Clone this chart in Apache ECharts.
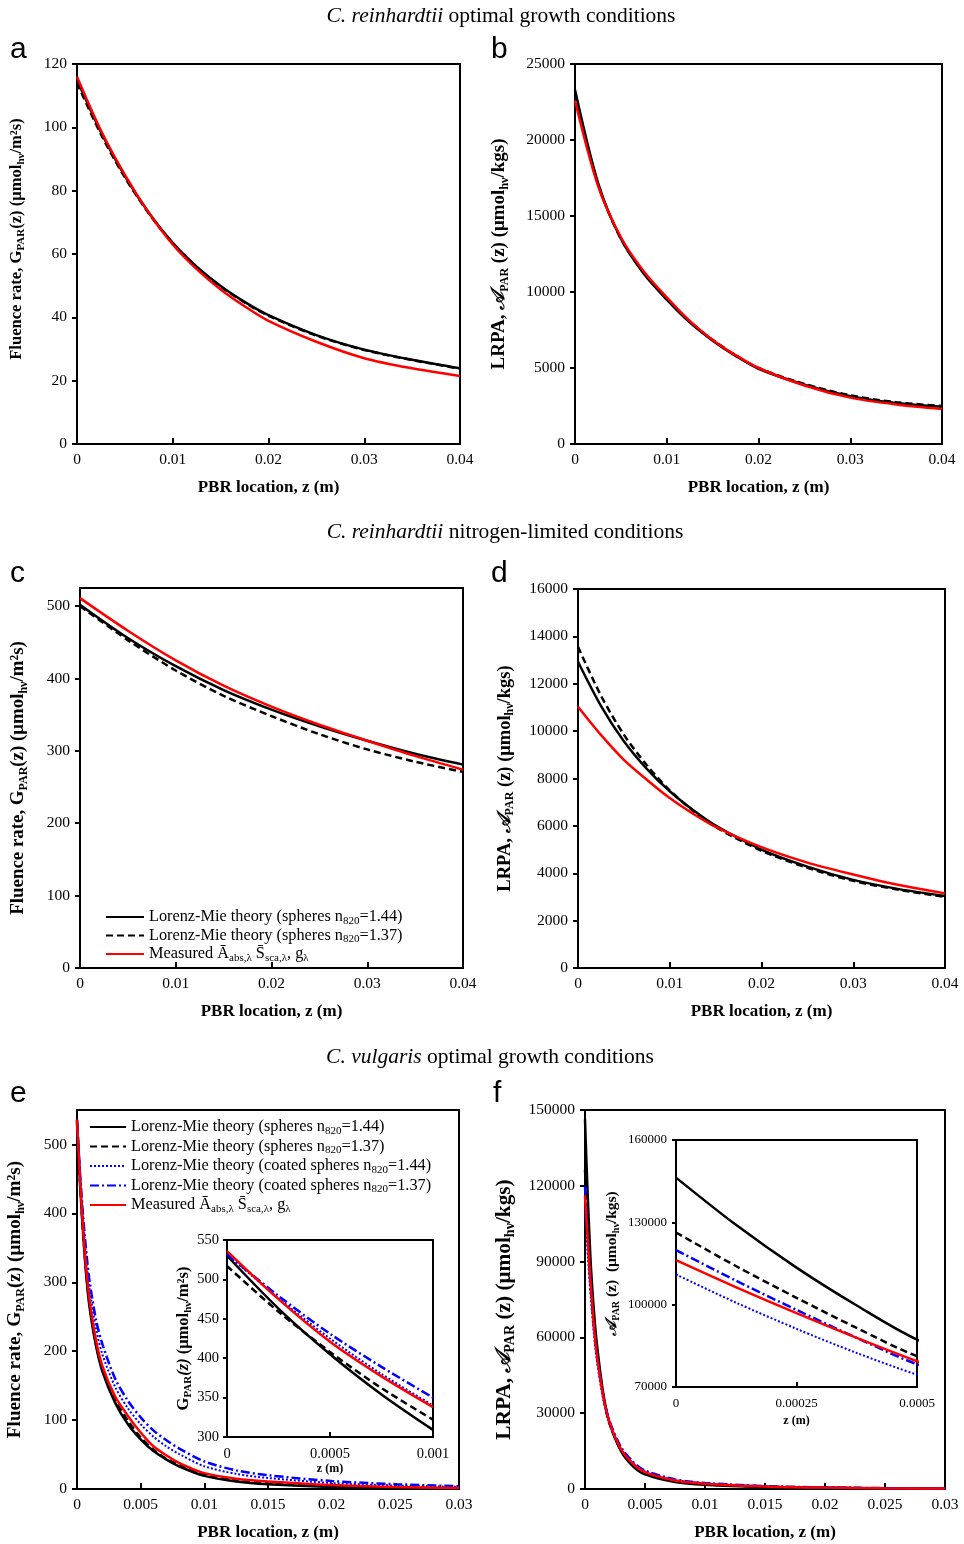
<!DOCTYPE html>
<html><head><meta charset="utf-8">
<script src="https://cdn.jsdelivr.net/npm/echarts@6/dist/echarts.min.js"></script>
<style>html,body{margin:0;padding:0;background:#fff}#c{width:964px;height:1544px}</style>
</head><body><div id="c"></div>
<script>
// ---------- DATA ----------
// Panel a / b : C. reinhardtii optimal growth
const zAB = [0,0.0025,0.005,0.0075,0.01,0.0125,0.015,0.0175,0.02,0.025,0.03,0.035,0.04];
const aSph144 = [115,98.5,84.6,73,63.5,56,49.9,44.9,40.7,34.4,29.8,26.6,23.9];
const aSph137 = [114,97.8,84.2,72.8,63.3,55.8,49.7,44.7,40.5,34.2,29.7,26.5,23.8];
const aMeas   = [116,99,85,73,63,55.2,48.8,43.5,38.9,32.3,27.1,23.9,21.5];
const bSph144 = [23300,17200,13500,11200,9500,8000,6800,5800,4950,3900,3150,2700,2450];
const bSph137 = [23000,17100,13500,11250,9550,8050,6850,5850,5000,3950,3200,2750,2500];
const bMeas   = [22600,17000,13600,11350,9650,8100,6850,5850,5000,3850,3050,2600,2300];
// Panel c / d : C. reinhardtii nitrogen-limited
const zC = [0,0.005,0.01,0.015,0.02,0.025,0.03,0.035,0.04];
const cSph144 = [502,456,417,384,357,334,314,296,281];
const cSph137 = [500,453,411,376,348,323,302,285,271];
const cMeas   = [511,466,425,390,361,336,314,293,274];
const zD = [0,0.0025,0.005,0.0075,0.01,0.0125,0.015,0.02,0.025,0.03,0.035,0.04];
const dSph144 = [12930,11070,9575,8410,7460,6680,6015,5000,4280,3720,3330,3040];
const dSph137 = [13560,11500,9850,8560,7500,6650,5950,4950,4230,3680,3300,3000];
const dMeas   = [11030,9840,8790,7950,7175,6525,5960,5100,4450,3950,3500,3150];
// Panel e : C. vulgaris fluence rate (main plot)
const zE = [0,0.00025,0.0005,0.00075,0.001,0.0015,0.002,0.003,0.004,0.005,0.006,0.007,0.008,0.01,0.0125,0.015,0.02,0.025,0.03];
const eSph144  = [535,440,365,305,262,207,170,125,94,72,55,43,33,19,11,7,3,1.5,0.7];
const eSph137  = [530,440,367,309,266,210,173,129,99,75,57,44,35,21,12.5,8,3.8,1.8,0.9];
const eCoat144 = [535,452,384,330,288,232,195,148,117,94,76,62,51,33,22,16,8.7,5,3];
const eCoat137 = [535,456,391,340,300,245,210,160,128,104,85,71,59,40,27,20,11.6,7,4];
const eMeas    = [536,445,372,315,272,215,178,134,106,82,62,49,38,23,15,11,5.8,3,1.5];
// Panel e inset (0 - 0.001 m)
const zEi = [0,0.00025,0.0005,0.00075,0.001];
const eiSph144  = [530,463,405,354,309];
const eiSph137  = [517,459,408,362,322];
const eiCoat144 = [532,476,425,380,340];
const eiCoat137 = [532,479,431,389,350];
const eiMeas    = [536,475,421,377,338];
// Panel f : C. vulgaris LRPA (main plot and inset)
const zF = [0,0.000125,0.00025,0.000375,0.0005,0.00075,0.001,0.0015,0.002,0.003,0.004,0.005,0.0075,0.01,0.015,0.02,0.025,0.03];
const fSph144  = [146300,129000,113500,99700,87300,70000,57000,38500,27000,15000,9000,5800,2800,1700,800,450,250,150];
const fSph137  = [126300,114000,102500,91500,81200,66000,54000,37500,26500,15300,9500,6300,3100,1900,900,500,280,170];
const fCoat144 = [111000,100700,91200,82400,74500,61000,50500,36000,26500,16000,10300,7000,3600,2300,1100,600,330,190];
const fCoat137 = [119900,108700,98100,87900,78300,64000,53000,37500,27500,16600,10700,7300,3800,2400,1150,650,350,200];
const fMeas    = [116200,106300,96900,87900,79400,64000,52500,37000,27000,15800,10000,6700,3400,2100,1000,550,300,180];

const N1 = 'Lorenz-Mie theory (spheres n820=1.44)';
const N2 = 'Lorenz-Mie theory (spheres n820=1.37)';
const N3 = 'Lorenz-Mie theory (coated spheres n820=1.44)';
const N4 = 'Lorenz-Mie theory (coated spheres n820=1.37)';
const N5 = 'Measured';

// ---------- STYLE ----------
const FONT = 'Liberation Serif';
const ST = {
  s144: {color:'#000', type:'solid', width:2.5},
  s137: {color:'#000', type:[7,4], width:2.5},
  c144: {color:'#0000ff', type:[2,2], width:2},
  c137: {color:'#0000ff', type:[9,3,2,3], width:2.5},
  meas: {color:'#ff0000', type:'solid', width:2.5}
};
function fmt(v){ return String(parseFloat(Number(v).toPrecision(10))); }
function line(name, key, xs, ys, gi){
  return {type:'line', name, xAxisIndex:gi, yAxisIndex:gi,
    data: xs.map((x,i)=>[x, ys[i]]), symbol:'none', showSymbol:false,
    smooth:0.3, clip:true, animation:false,
    lineStyle:Object.assign({}, ST[key]), itemStyle:{color:ST[key].color},
    z: key==='meas' ? 6 : 4};
}
function richB(fs){
  const lh = Math.round(fs*1.2);
  return {
    b:{fontFamily:FONT,fontSize:fs,fontWeight:'bold',color:'#000',lineHeight:lh},
    s:{fontFamily:FONT,fontSize:Math.round(fs*0.65),fontWeight:'bold',color:'#000',lineHeight:lh,verticalAlign:'bottom'},
    i:{fontFamily:FONT,fontSize:fs,fontWeight:'bold',fontStyle:'italic',color:'#000',lineHeight:lh}
  };
}
function xAxis(gi,min,max,interval,o){
  o = o||{};
  return {type:'value', gridIndex:gi, min, max, interval,
    name:o.name||'PBR location, z (m)', nameLocation:'middle', nameGap:o.nameGap||35,
    nameTextStyle:{fontFamily:FONT,fontSize:o.nfs||17,fontWeight:'bold',color:'#000'},
    axisLine:{onZero:false,lineStyle:{color:'#000',width:2}},
    axisTick:{inside:true,length:o.tl||6,lineStyle:{color:'#000',width:2}},
    axisLabel:{fontFamily:FONT,fontSize:o.fs||15.5,color:'#000',margin:o.margin||8,formatter:fmt},
    splitLine:{show:false}};
}
function yAxis(gi,min,max,interval,name,nameGap,o){
  o = o||{};
  const nfs = o.nfs||17;
  return {type:'value', gridIndex:gi, min, max, interval,
    name, nameLocation:'middle', nameGap, nameRotate:90,
    nameTextStyle:{fontFamily:FONT,fontSize:nfs,fontWeight:'bold',color:'#000',rich:richB(nfs),padding:o.pad||0},
    axisLine:{onZero:false,lineStyle:{color:'#000',width:2}},
    axisTick:{inside:false,length:o.tl||5,lineStyle:{color:'#000',width:2}},
    axisLabel:{fontFamily:FONT,fontSize:o.fs||15.5,color:'#000',margin:o.margin||10,formatter:fmt,showMaxLabel:o.hideMax?false:true},
    splitLine:{show:false}};
}
const G = (left,top,width,height,bg)=>({left,top,width,height,show:true,borderColor:'#000',borderWidth:2,backgroundColor:bg||'transparent',containLabel:false});

const grids = [
  G(77,64,383,380), G(575,64,367,380),
  G(80,588,383,380), G(578,589,367,379),
  G(77,1110,382,379), G(585,1110,360,379),
  G(227,1240,206,197,'#fff'), G(676,1140,241,247,'#fff')
];
const nameG = '{b|Fluence rate, G}{s|PAR}{b|(z) (μmol}{s|hν}{b|/m²s)}';
const nameA = '{b|LRPA, }{i|𝒜}{s|PAR}{b| (z) (μmol}{s|hν}{b|/kgs)}';
const xAxes = [
  xAxis(0,0,0.04,0.01), xAxis(1,0,0.04,0.01),
  xAxis(2,0,0.04,0.01), xAxis(3,0,0.04,0.01),
  xAxis(4,0,0.03,0.005), xAxis(5,0,0.03,0.005),
  xAxis(6,0,0.001,0.0005,{name:'z (m)',nfs:12,fs:14.5,nameGap:23,margin:10,tl:5}),
  xAxis(7,0,0.0005,0.00025,{name:'z (m)',nfs:12,fs:13,nameGap:28,margin:10,tl:5})
];
const yAxes = [
  yAxis(0,0,120,20,nameG,50,{nfs:16.6,pad:[0,0,0,30]}),
  yAxis(1,0,25000,5000,nameA,64,{nfs:19}),
  yAxis(2,0,525,100,nameG,50,{hideMax:true,nfs:18.9}),
  yAxis(3,0,16000,2000,nameA,62,{nfs:18.5}),
  yAxis(4,0,550,100,nameG,50,{hideMax:true,nfs:19.2}),
  yAxis(5,0,150000,30000,nameA,68,{nfs:21.3,pad:[0,20,0,0]}),
  yAxis(6,300,550,50,'{b|G}{s|PAR}{i|(z)}{b| (μmol}{s|hν}{b|/m²s)}',31,{nfs:16.5,fs:14.5,tl:4,margin:8}),
  yAxis(7,70000,160000,30000,'{i|𝒜}{s|PAR}{b| (z)  (μmol}{s|hν}{b|/kgs)}',55,{nfs:15.5,fs:13,tl:4,margin:9})
];

const series = [];
function addSet(gi, xs, arrs){
  if (arrs.s137) series.push(line(N2,'s137',xs,arrs.s137,gi));
  if (arrs.s144) series.push(line(N1,'s144',xs,arrs.s144,gi));
  if (arrs.c144) series.push(line(N3,'c144',xs,arrs.c144,gi));
  if (arrs.c137) series.push(line(N4,'c137',xs,arrs.c137,gi));
  if (arrs.meas) series.push(line(N5,'meas',xs,arrs.meas,gi));
}
addSet(0,zAB,{s144:aSph144,s137:aSph137,meas:aMeas});
addSet(1,zAB,{s144:bSph144,s137:bSph137,meas:bMeas});
addSet(2,zC,{s144:cSph144,s137:cSph137,meas:cMeas});
addSet(3,zD,{s144:dSph144,s137:dSph137,meas:dMeas});
addSet(4,zE,{s144:eSph144,s137:eSph137,c144:eCoat144,c137:eCoat137,meas:eMeas});
addSet(5,zF,{s144:fSph144,s137:fSph137,c144:fCoat144,c137:fCoat137,meas:fMeas});
addSet(6,zEi,{s144:eiSph144,s137:eiSph137,c144:eiCoat144,c137:eiCoat137,meas:eiMeas});
addSet(7,zF,{s144:fSph144,s137:fSph137,c144:fCoat144,c137:fCoat137,meas:fMeas});

const LR = {
  t:{fontFamily:FONT,fontSize:16.3,color:'#000',lineHeight:19},
  s:{fontFamily:FONT,fontSize:11,color:'#000',lineHeight:19,verticalAlign:'bottom'}
};
const legendText = {};
legendText[N1] = '{t|Lorenz-Mie theory (spheres n}{s|820}{t|=1.44)}';
legendText[N2] = '{t|Lorenz-Mie theory (spheres n}{s|820}{t|=1.37)}';
legendText[N3] = '{t|Lorenz-Mie theory (coated spheres n}{s|820}{t|=1.44)}';
legendText[N4] = '{t|Lorenz-Mie theory (coated spheres n}{s|820}{t|=1.37)}';
legendText[N5] = '{t|Measured Ā}{s|abs,λ}{t| S\u0304}{s|sca,λ}{t|, g}{s|λ}';
function legend(left,top,data,w,gap){
  return {left,top,orient:'vertical',data,itemWidth:w,itemHeight:12,itemGap:gap,
    selectedMode:false, itemStyle:{opacity:0},
    formatter:n=>legendText[n], textStyle:{fontFamily:FONT,fontSize:16.3,color:'#000',rich:LR}};
}

const TS = {fontFamily:FONT,fontSize:21.5,fontWeight:'normal',color:'#000',
  rich:{i:{fontFamily:FONT,fontSize:21.5,fontStyle:'italic',color:'#000'}, n:{fontFamily:FONT,fontSize:21.5,color:'#000'}}};
const LS = {fontFamily:'Liberation Sans',fontSize:30,fontWeight:'normal',color:'#000'};
const titles = [
  {text:'{i|C. reinhardtii}{n| optimal growth conditions}',left:496,top:0,textAlign:'center',textStyle:TS},
  {text:'{i|C. reinhardtii}{n| nitrogen-limited conditions}',left:500,top:516,textAlign:'center',textStyle:TS},
  {text:'{i|C. vulgaris}{n| optimal growth conditions}',left:485,top:1041,textAlign:'center',textStyle:TS},
  {text:'a',left:5,top:30,textStyle:LS},{text:'b',left:486,top:30,textStyle:LS},
  {text:'c',left:5,top:554,textStyle:LS},{text:'d',left:486,top:554,textStyle:LS},
  {text:'e',left:5,top:1074,textStyle:LS},{text:'f',left:488,top:1074,textStyle:LS}
];

const chart = echarts.init(document.getElementById('c'));
chart.setOption({
  backgroundColor:'#fff', animation:false,
  title:titles,
  grid:grids, xAxis:xAxes, yAxis:yAxes,
  legend:[legend(100,904,[N1,N2,N5],38,1), legend(84,1114,[N1,N2,N3,N4,N5],36,2)],
  series
});
</script></body></html>
